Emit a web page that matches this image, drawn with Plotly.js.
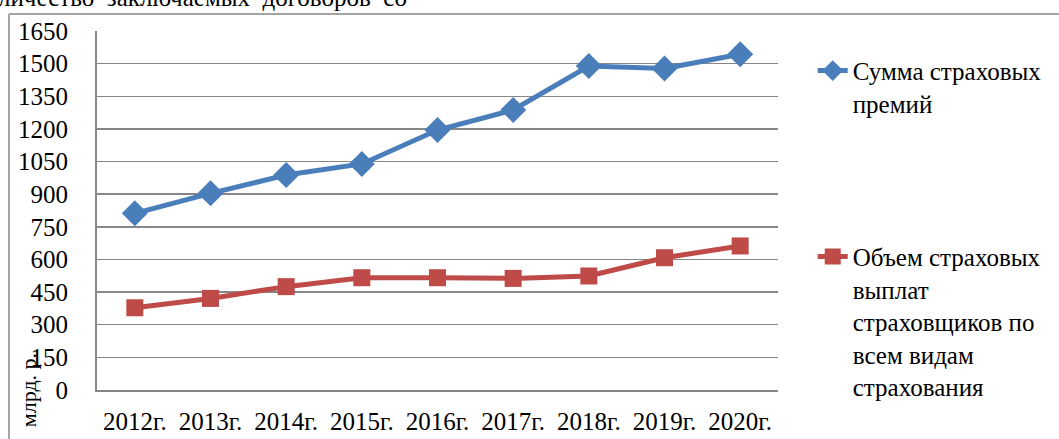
<!DOCTYPE html>
<html>
<head>
<meta charset="utf-8">
<script src="https://cdn.plot.ly/plotly-3.0.1.min.js"></script>
<style>html,body{margin:0;padding:0;background:#fff;}#chart{width:1059px;height:439px;}</style>
</head>
<body>
<div id="chart"></div>
<script>
const years = ["2012г.", "2013г.", "2014г.", "2015г.", "2016г.", "2017г.", "2018г.", "2019г.", "2020г."];
const premiums = [812, 904, 988, 1039, 1195, 1287, 1489, 1478, 1543];
const payouts = [378, 421, 475, 516, 516, 513, 524, 608, 662];
const seriesNames = ["Сумма страховых<br>премий", "Объем страховых<br>выплат<br>страховщиков по<br>всем видам<br>страхования"];
const yTicks = [0, 150, 300, 450, 600, 750, 900, 1050, 1200, 1350, 1500, 1650];
const yTitle = "млрд. р.";
const headText = "личество  заключаемых  договоров  со";

const FONT = "Liberation Serif";

const traces = [
  {
    x: years, y: premiums, type: "scatter", mode: "lines+markers",
    name: seriesNames[0], legendgroup: "a",
    line: {color: "#4A7EBB", width: 5},
    marker: {symbol: "diamond", size: 20, color: "#4A7EBB"}
  },
  {
    x: years, y: payouts, type: "scatter", mode: "lines+markers",
    name: seriesNames[1], legendgroup: "b",
    line: {color: "#BE4B48", width: 5},
    marker: {symbol: "square", size: 17, color: "#BE4B48"}
  }
];

const layout = {
  width: 1059, height: 439,
  margin: {l: 97, r: 281, t: 31, b: 49, pad: 0},
  paper_bgcolor: "#ffffff", plot_bgcolor: "#ffffff",
  font: {family: FONT, size: 25, color: "#000"},
  showlegend: true,
  legend: {
    x: 1.051, xanchor: "left", y: 0.953, yanchor: "top",
    valign: "top", traceorder: "grouped", tracegroupgap: 118,
    font: {family: FONT, size: 25, color: "#000"},
    bgcolor: "rgba(0,0,0,0)"
  },
  xaxis: {
    type: "category", range: [-0.5, 8.5],
    showgrid: false, zeroline: false,
    showline: true, linecolor: "#878787", linewidth: 2,
    ticks: "", ticklen: 0, ticklabelstandoff: 8,
    tickfont: {family: FONT, size: 25},
    fixedrange: true
  },
  yaxis: {
    range: [0, 1650], tickvals: yTicks, ticktext: yTicks.map(String),
    showgrid: true, gridcolor: "#878787", gridwidth: 1.5,
    zeroline: false, showline: true, linecolor: "#878787", linewidth: 2,
    ticks: "", ticklabelstandoff: 22,
    tickfont: {family: FONT, size: 25},
    fixedrange: true
  },
  annotations: [
    {
      text: headText, xref: "paper", yref: "paper",
      x: -0.148, xanchor: "left", y: 1.05, yanchor: "bottom",
      showarrow: false, font: {family: FONT, size: 25, color: "#000"}
    },
    {
      text: yTitle, xref: "paper", yref: "paper",
      x: -0.101, xanchor: "center", y: -0.0, yanchor: "middle",
      textangle: -90, showarrow: false,
      font: {family: FONT, size: 22, color: "#000"}
    }
  ],
  shapes: [
    {type: "line", xref: "paper", yref: "paper", x0: -0.1292, x1: 1.43, y0: 1.0474, y1: 1.0474,
     line: {color: "#878787", width: 1.5}},
    {type: "line", xref: "paper", yref: "paper", x0: -0.1292, x1: -0.1292, y0: 1.0474, y1: -0.2,
     line: {color: "#878787", width: 1.5}}
  ]
};

Plotly.newPlot("chart", traces, layout, {displayModeBar: false, staticPlot: true});
</script>
</body>
</html>
